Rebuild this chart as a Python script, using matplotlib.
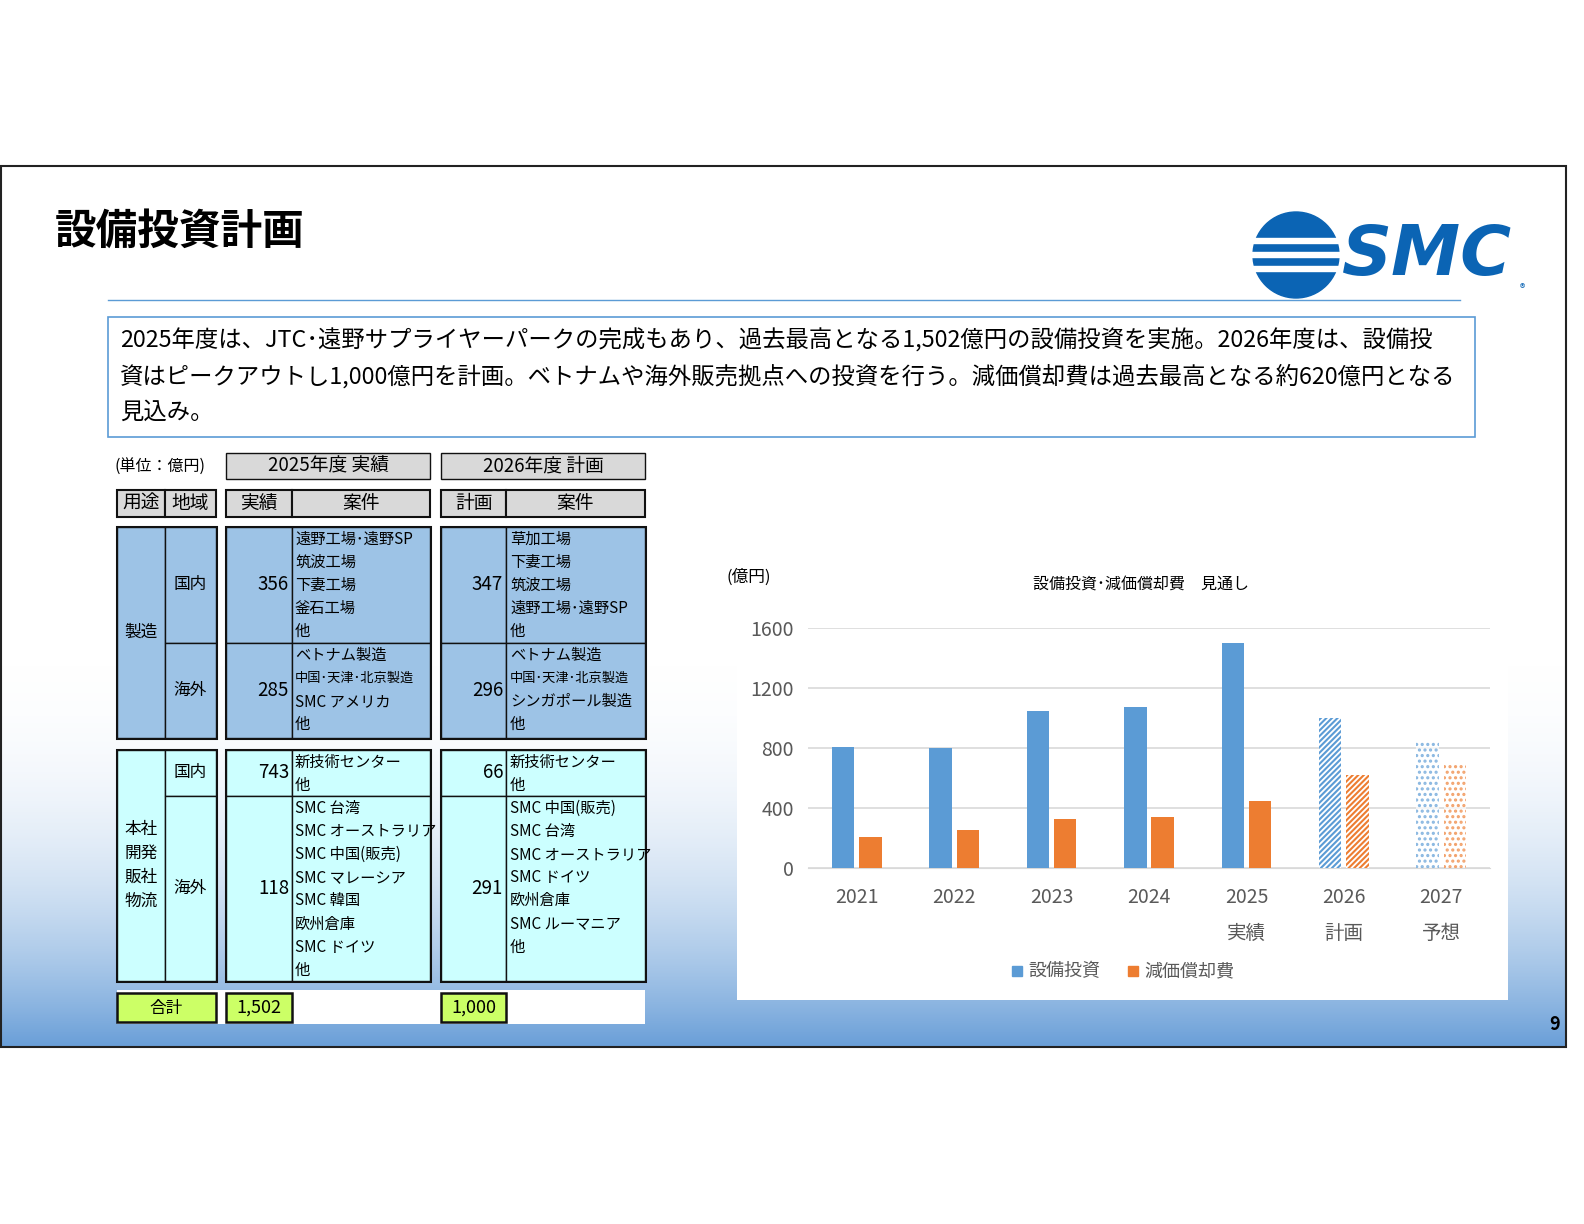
import numpy as np
import matplotlib
matplotlib.use("Agg")
import matplotlib.pyplot as plt
from matplotlib.patches import Rectangle, Circle

plt.rcParams['font.family'] = ['Noto Sans CJK JP', 'DejaVu Sans']
plt.rcParams['hatch.linewidth'] = 1.5

# ---- data ----
years = ["2021", "2022", "2023", "2024", "2025\n実績", "2026\n計画", "2027\n予想"]
capex = [810, 800, 1050, 1075, 1502, 1000, 850]
depreciation = [205, 255, 330, 340, 445, 620, 690]
y_ticks = [0, 400, 800, 1200, 1600]

col_heads = ["用途", "地域", "実績", "案件", "計画", "案件"]
mfg_dom_2025, mfg_ovs_2025 = "356", "285"
mfg_dom_2026, mfg_ovs_2026 = "347", "296"
hq_dom_2025, hq_ovs_2025 = "743", "118"
hq_dom_2026, hq_ovs_2026 = "66", "291"
total_2025, total_2026 = "1,502", "1,000"
items_mfg_dom_2025 = ["遠野工場･遠野SP", "筑波工場", "下妻工場", "釜石工場", "他"]
items_mfg_ovs_2025 = ["ベトナム製造", "中国･天津･北京製造", "SMC アメリカ", "他"]
items_mfg_dom_2026 = ["草加工場", "下妻工場", "筑波工場", "遠野工場･遠野SP", "他"]
items_mfg_ovs_2026 = ["ベトナム製造", "中国･天津･北京製造", "シンガポール製造", "他"]
items_hq_dom_2025 = ["新技術センター", "他"]
items_hq_ovs_2025 = ["SMC 台湾", "SMC オーストラリア", "SMC 中国(販売)", "SMC マレーシア",
                     "SMC 韓国", "欧州倉庫", "SMC ドイツ", "他"]
items_hq_dom_2026 = ["新技術センター", "他"]
items_hq_ovs_2026 = ["SMC 中国(販売)", "SMC 台湾", "SMC オーストラリア", "SMC ドイツ",
                     "欧州倉庫", "SMC ルーマニア", "他"]

BLUE = "#5B9BD5"
ORANGE = "#ED7D31"
CELL1 = "#9DC3E6"
CELL2 = "#CCFFFF"

fig = plt.figure(figsize=(15.84, 12.24), dpi=100)
bg = fig.add_axes([0, 0, 1, 1])
bg.set_xlim(0, 1584)
bg.set_ylim(1224, 0)
bg.axis("off")

# slide background gradient
grad = np.linspace(0, 1, 200)[:, None] ** 2.5
cmap = matplotlib.colors.LinearSegmentedColormap.from_list("g", ["#FFFFFF", "#6A9FD8"])
bg.imshow(grad, extent=(1, 1566, 1047, 620), cmap=cmap, aspect="auto", zorder=0)
bg.add_patch(Rectangle((1, 166), 1565, 881, fill=False, lw=1.5, ec="#222222", zorder=5))

bg.text(55, 232, "設備投資計画", fontsize=30, fontweight="bold", va="center")
bg.plot([108, 1460], [300, 300], color="#5B9BD5", lw=1)
bg.text(1560, 1024, "9", fontsize=13, fontweight="bold", ha="right", va="center")

# logo
bg.add_patch(Circle((1296, 255), 43, color="#0B64B4", zorder=3))
for yy in [238, 252, 266]:
    bg.add_patch(Rectangle((1248, yy), 92, 5, color="white", zorder=4))
bg.text(1342, 255, "SMC", fontsize=50, fontweight="bold", style="italic", color="#0B64B4",
        va="center", family="DejaVu Sans")
bg.text(1520, 292, "®", fontsize=8, color="#0B64B4")

# summary box
bg.add_patch(Rectangle((108, 317), 1367, 120, fill=True, fc="white", ec="#5B9BD5", lw=1.2, zorder=2))
summary = ["2025年度は、JTC･遠野サプライヤーパークの完成もあり、過去最高となる1,502億円の設備投資を実施。2026年度は、設備投",
           "資はピークアウトし1,000億円を計画。ベトナムや海外販売拠点への投資を行う。減価償却費は過去最高となる約620億円となる",
           "見込み。"]
for i, s in enumerate(summary):
    bg.text(120, 340 + i * 36, s, fontsize=16.8, va="center", zorder=3)

# ---- table ----
def box(x0, y0, x1, y1, fc, lw=1.0):
    bg.add_patch(Rectangle((x0, y0), x1 - x0, y1 - y0, fc=fc, ec="#111111", lw=lw, zorder=3))

def lines(x, ytop, items):
    for i, s in enumerate(items):
        fs = 9.5 if s.startswith("中国･") else 11
        bg.text(x, ytop + 12 + i * 23.2, s, fontsize=fs, va="center", zorder=4)

bg.text(115, 467, "(単位：億円)", fontsize=11.5, va="center")
box(226, 453, 430, 479, "#D9D9D9")
box(441, 453, 645, 479, "#D9D9D9")
bg.text(328, 466, "2025年度 実績", fontsize=13.5, ha="center", va="center", zorder=4)
bg.text(543, 466, "2026年度 計画", fontsize=13.5, ha="center", va="center", zorder=4)

heads = [(117, 165), (165, 216), (226, 292), (292, 430), (441, 506), (506, 645)]
for (x0, x1), h in zip(heads, col_heads):
    box(x0, 490, x1, 517, "#D9D9D9", lw=1.5)
    bg.text((x0 + x1) / 2, 503, h, fontsize=13.5, ha="center", va="center", zorder=4)

groups = [
    (527, 643, 738, CELL1, "製造",
     (mfg_dom_2025, items_mfg_dom_2025, mfg_dom_2026, items_mfg_dom_2026),
     (mfg_ovs_2025, items_mfg_ovs_2025, mfg_ovs_2026, items_mfg_ovs_2026)),
    (750, 796, 981, CELL2, "本社\n開発\n販社\n物流",
     (hq_dom_2025, items_hq_dom_2025, hq_dom_2026, items_hq_dom_2026),
     (hq_ovs_2025, items_hq_ovs_2025, hq_ovs_2026, items_hq_ovs_2026)),
]
for y0, ym, y1, fc, label, dom, ovs in groups:
    for x0, x1 in [(117, 216), (226, 430), (441, 645)]:
        box(x0, y0, x1, y1, fc, lw=2.2)
    box(117, y0, 165, y1, fc)
    for (a, b) in [(165, 216), (226, 292), (292, 430), (441, 506), (506, 645)]:
        box(a, y0, b, ym, fc)
        box(a, ym, b, y1, fc)
    bg.text(141, (y0 + y1) / 2, label, fontsize=12, ha="center", va="center",
            linespacing=1.55, zorder=4)
    for (ya, yb), reg, (v25, it25, v26, it26) in [((y0, ym), "国内", dom), ((ym, y1), "海外", ovs)]:
        yc = (ya + yb) / 2
        bg.text(190, yc, reg, fontsize=12, ha="center", va="center", zorder=4)
        bg.text(289, yc, v25, fontsize=13.5, ha="right", va="center", zorder=4)
        bg.text(503, yc, v26, fontsize=13.5, ha="right", va="center", zorder=4)
        lines(295, ya, it25)
        lines(510, ya, it26)

bg.add_patch(Rectangle((117, 990), 528, 34, fc="white", ec="none", zorder=2))
box(117, 993, 216, 1022, "#CCFF66", lw=1.8)
box(226, 993, 292, 1022, "#CCFF66", lw=1.8)
box(441, 993, 506, 1022, "#CCFF66", lw=1.8)
bg.text(166, 1008, "合計", fontsize=12, ha="center", va="center", zorder=4)
bg.text(259, 1008, total_2025, fontsize=13, ha="center", va="center", zorder=4)
bg.text(474, 1008, total_2026, fontsize=13, ha="center", va="center", zorder=4)

# ---- chart ----
bg.add_patch(Rectangle((737, 605), 771, 395, fc="white", ec="none", zorder=2))
bg.text(726, 577, "(億円)", fontsize=12, va="center")
bg.text(1141, 585, "設備投資･減価償却費　見通し", fontsize=11.5, ha="center", va="center")

ax = fig.add_axes([808 / 1584, 1 - 868 / 1224, 682 / 1584, 240 / 1224])
ax.set_facecolor("none")
x = np.arange(len(years))
w = 0.23
off = 0.14
styles = ["solid"] * 5 + ["hatch", "dot"]
for i in x:
    for val, color, sgn in [(capex[i], BLUE, -1), (depreciation[i], ORANGE, 1)]:
        xp = i + sgn * off
        if styles[i] == "solid":
            ax.bar(xp, val, w, color=color, zorder=3)
        elif styles[i] == "hatch":
            ax.bar(xp, val, w, color="white", edgecolor=color, hatch="//////", lw=0, zorder=3)
        else:
            ax.bar(xp, val, w, color="white", edgecolor=color, hatch="...", lw=0, zorder=3, alpha=0.7)
ax.set_xlim(-0.5, len(years) - 0.5)
ax.set_ylim(0, 1600)
ax.set_yticks(y_ticks)
ax.set_xticks(x)
ax.set_xticklabels(years, linespacing=1.9, va="top")
ax.tick_params(length=0, labelsize=14, labelcolor="#595959", pad=10)
ax.tick_params(axis="x", pad=14)
ax.grid(axis="y", color="#D9D9D9", lw=1.2, zorder=0)
for s in ["top", "right", "left"]:
    ax.spines[s].set_visible(False)
ax.spines["bottom"].set_color("#D9D9D9")

bg.add_patch(Rectangle((1012, 966), 10, 10, color=BLUE, zorder=4))
bg.text(1028, 971, "設備投資", fontsize=13, color="#595959", va="center", zorder=4)
bg.add_patch(Rectangle((1128, 966), 10, 10, color=ORANGE, zorder=4))
bg.text(1144, 971, "減価償却費", fontsize=13, color="#595959", va="center", zorder=4)

fig.savefig("out.png", dpi=100)
